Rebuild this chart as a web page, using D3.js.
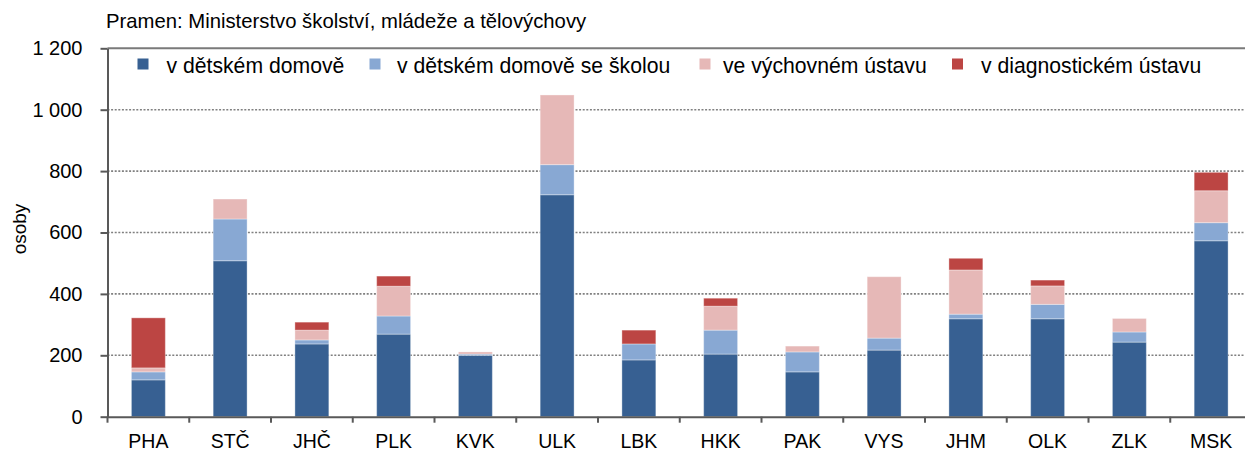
<!DOCTYPE html>
<html>
<head>
<meta charset="utf-8">
<script src="https://cdn.jsdelivr.net/npm/d3@7"></script>
<style>
  html, body { margin: 0; padding: 0; background: #ffffff; }
  svg { display: block; font-family: "Liberation Sans", Arial, sans-serif; }
</style>
</head>
<body>
<svg id="chart" width="1245" height="452"></svg>
<script>
const categories = ["PHA","STČ","JHČ","PLK","KVK","ULK","LBK","HKK","PAK","VYS","JHM","OLK","ZLK","MSK"];
const seriesNames = ["v dětském domově","v dětském domově se školou","ve výchovném ústavu","v diagnostickém ústavu"];
const domov       = [120, 508, 237, 269, 200, 723, 185, 204, 146, 217, 319, 319, 243, 573];
const domovSkola  = [ 26, 136,  13,  59,   4,  98,  52,  78,  65,  39,  15,  47,  33,  59];
const vychovny    = [ 13,  65,  32,  97,   7, 227,   0,  78,  19, 200, 144,  60,  44, 104];
const diagnostic  = [163,   0,  26,  33,   0,   0,  45,  26,   0,   0,  38,  19,   0,  60];
const yTicks = [0, 200, 400, 600, 800, 1000, 1200];
const colors = ["#376092", "#88a8d3", "#e6b8b7", "#bc4543"];
const titleText = "Pramen: Ministerstvo školství, mládeže a tělovýchovy";
const yLabel = "osoby";

const svg = d3.select("#chart");
const mLeft = 107.5, mBottom = 416.7, mTop = 48.3;
const bandW = 81.75;
const mRight = mLeft + bandW * categories.length;

const x = d3.scaleBand().domain(categories).range([mLeft, mRight]).paddingInner(0.585).paddingOuter(0.2925);
const y = d3.scaleLinear().domain([0, 1200]).range([mBottom, mTop]);

const rows = categories.map((c, i) => ({cat: c, s0: domov[i], s1: domovSkola[i], s2: vychovny[i], s3: diagnostic[i]}));
const stacked = d3.stack().keys(["s0","s1","s2","s3"])(rows);

const fmt = v => d3.format(",")(v).replace(/,/g, " ");

// gridlines (dotted) except top
svg.append("g").selectAll("line").data(yTicks.filter(t => t > 0 && t < 1200)).join("line")
  .attr("x1", mLeft).attr("x2", 1245).attr("y1", d => y(d)).attr("y2", d => y(d))
  .attr("stroke", "#808080").attr("stroke-width", 1.6).attr("stroke-dasharray", "2,1.6");

// top border solid
svg.append("line").attr("x1", mLeft).attr("x2", 1245).attr("y1", y(1200)).attr("y2", y(1200))
  .attr("stroke", "#7a7a7a").attr("stroke-width", 2);

// bars
svg.append("g").selectAll("g").data(stacked).join("g")
  .attr("fill", (d, i) => colors[i])
  .selectAll("rect").data(d => d.filter(p => p[1] - p[0] > 0)).join("rect")
  .attr("x", d => x(d.data.cat))
  .attr("width", x.bandwidth())
  .attr("y", d => y(d[1]))
  .attr("height", d => y(d[0]) - y(d[1]))
  .attr("stroke", "rgba(255,255,255,0.35)").attr("stroke-width", 1);

// y axis
const yAxis = d3.axisLeft(y).tickValues(yTicks).tickFormat(fmt).tickSizeInner(7).tickSizeOuter(0).tickPadding(18);
const gy = svg.append("g").attr("transform", `translate(${mLeft},0)`).call(yAxis);
gy.select(".domain").attr("stroke", "#595959").attr("stroke-width", 2);
gy.selectAll(".tick line").attr("stroke", "#595959").attr("stroke-width", 2);
gy.selectAll(".tick text").attr("font-size", 20).attr("fill", "#000").attr("font-family", "Liberation Sans, Arial, sans-serif");

// x axis
const xAxis = d3.axisBottom(x).tickSize(0).tickPadding(0);
const gx = svg.append("g").attr("transform", `translate(0,${mBottom})`).call(xAxis);
gx.select(".domain").attr("stroke", "#595959").attr("stroke-width", 2);
gx.selectAll(".tick text").attr("font-size", 19.5).attr("fill", "#000").attr("dy", null).attr("y", 31.5)
  .attr("font-family", "Liberation Sans, Arial, sans-serif");
// x ticks at band boundaries
const boundaries = categories.map(c => x(c) - x.step() * x.paddingInner() / 2).concat([mRight]);
gx.selectAll(".bound").data(boundaries).join("line").attr("class", "bound")
  .attr("x1", d => d).attr("x2", d => d).attr("y1", 0).attr("y2", 6)
  .attr("stroke", "#595959").attr("stroke-width", 2);

// title
svg.append("text").attr("x", 106).attr("y", 28).attr("font-size", 20.3).attr("fill", "#000").text(titleText);

// y label
svg.append("text").attr("transform", "translate(26,229) rotate(-90)").attr("text-anchor", "middle")
  .attr("font-size", 19).attr("fill", "#000").text(yLabel);

// legend
const legendX = [137.5, 369.5, 699.5, 952];
const legendTextX = [166.5, 397, 723, 981];
const lg = svg.append("g");
seriesNames.forEach((n, i) => {
  lg.append("rect").attr("x", legendX[i]).attr("y", 58.5).attr("width", 11).attr("height", 11).attr("fill", colors[i]);
  lg.append("text").attr("x", legendTextX[i]).attr("y", 73).attr("font-size", 21.2).attr("fill", "#000").text(n);
});
</script>
</body>
</html>
